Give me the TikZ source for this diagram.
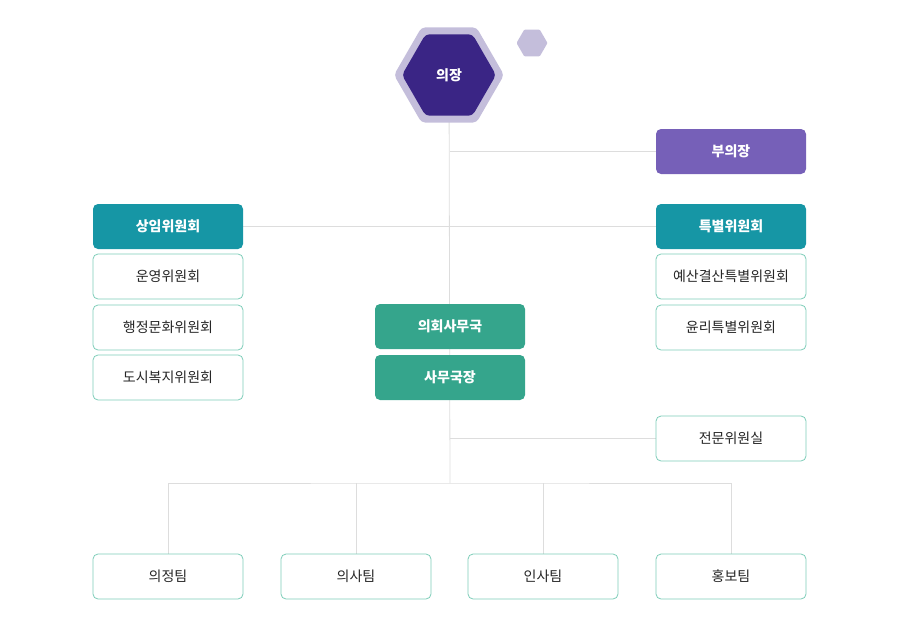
\documentclass[tikz,border=0pt]{standalone}
\usepackage{fontspec}
\setmainfont{Noto Sans CJK KR}
\usetikzlibrary{positioning, shapes.geometric, backgrounds}
\definecolor{hexdark}{HTML}{3A2585}
\definecolor{hexlight}{HTML}{C4BEDB}
\definecolor{vicecol}{HTML}{7660B8}
\definecolor{teal}{HTML}{1696A5}
\definecolor{office}{HTML}{35A58C}
\definecolor{edgecol}{HTML}{7ECDB9}
\definecolor{linecol}{HTML}{DDDDDD}
\tikzset{
    filled/.style={rectangle, rounded corners=5pt, minimum width=150pt, minimum height=45pt, text=white, font=\fontsize{14pt}{16pt}\selectfont\bfseries, inner sep=0pt},
    unit/.style={rectangle, rounded corners=5pt, draw=edgecol, line width=0.8pt, fill=white, minimum width=150pt, minimum height=45pt, text=black!85, font=\fontsize{14pt}{16pt}\selectfont, inner sep=0pt},
    hex/.style={regular polygon, regular polygon sides=6, inner sep=0pt, rounded corners=4pt},
    link/.style={draw=linecol, line width=0.8pt}
}
\begin{document}
\begin{tikzpicture}[x=1pt, y=-1pt]
    \useasboundingbox (0,0) rectangle (897,642);
    % chair
    \node[hex, fill=hexlight, minimum size=110pt] (ChairOut) at (449,75) {};
    \node[hex, fill=hexdark, minimum size=94pt, text=white, font=\fontsize{14pt}{16pt}\selectfont\bfseries] (Chair) at (449,75) {의장};
    \node[hex, fill=hexlight, minimum size=31pt, rounded corners=1pt] (Deco) at (532,43) {};

    \node[filled, fill=vicecol] (Vice) at (731,151.5) {부의장};
    \node[filled, fill=teal] (Standing) at (168,226.5) {상임위원회};
    \node[filled, fill=teal] (Special) at (731,226.5) {특별위원회};

    \node[unit] (Steer) at (168,276.5) {운영위원회};
    \node[unit] (Admin) at (168,327.5) {행정문화위원회};
    \node[unit] (Welfare) at (168,377.5) {도시복지위원회};
    \node[unit] (Budget) at (731,276.5) {예산결산특별위원회};
    \node[unit] (Ethics) at (731,327.5) {윤리특별위원회};

    \node[filled, fill=office] (Office) at (450,326.5) {의회사무국};
    \node[filled, fill=office] (Head) at (450,377.5) {사무국장};
    \node[unit] (Expert) at (731,438.5) {전문위원실};

    \node[unit] (TeamA) at (168,576.5) {의정팀};
    \node[unit] (TeamB) at (356,576.5) {의사팀};
    \node[unit] (TeamC) at (543,576.5) {인사팀};
    \node[unit] (TeamD) at (731,576.5) {홍보팀};

    \coordinate (Hub) at (450,483);
    \begin{scope}[on background layer]
        \draw[link] (ChairOut.center) -- (Hub);
        \draw[link] (Vice.west) -- (Vice.west -| Hub);
        \draw[link] (Standing.east) -- (Special.west);
        \draw[link] (Expert.west) -- (Expert.west -| Hub);
        \draw[link] (TeamA.north) |- (Hub) -| (TeamD.north);
        \draw[link] (TeamB.north) -- (TeamB.north |- Hub);
        \draw[link] (TeamC.north) -- (TeamC.north |- Hub);
    \end{scope}
\end{tikzpicture}
\end{document}
